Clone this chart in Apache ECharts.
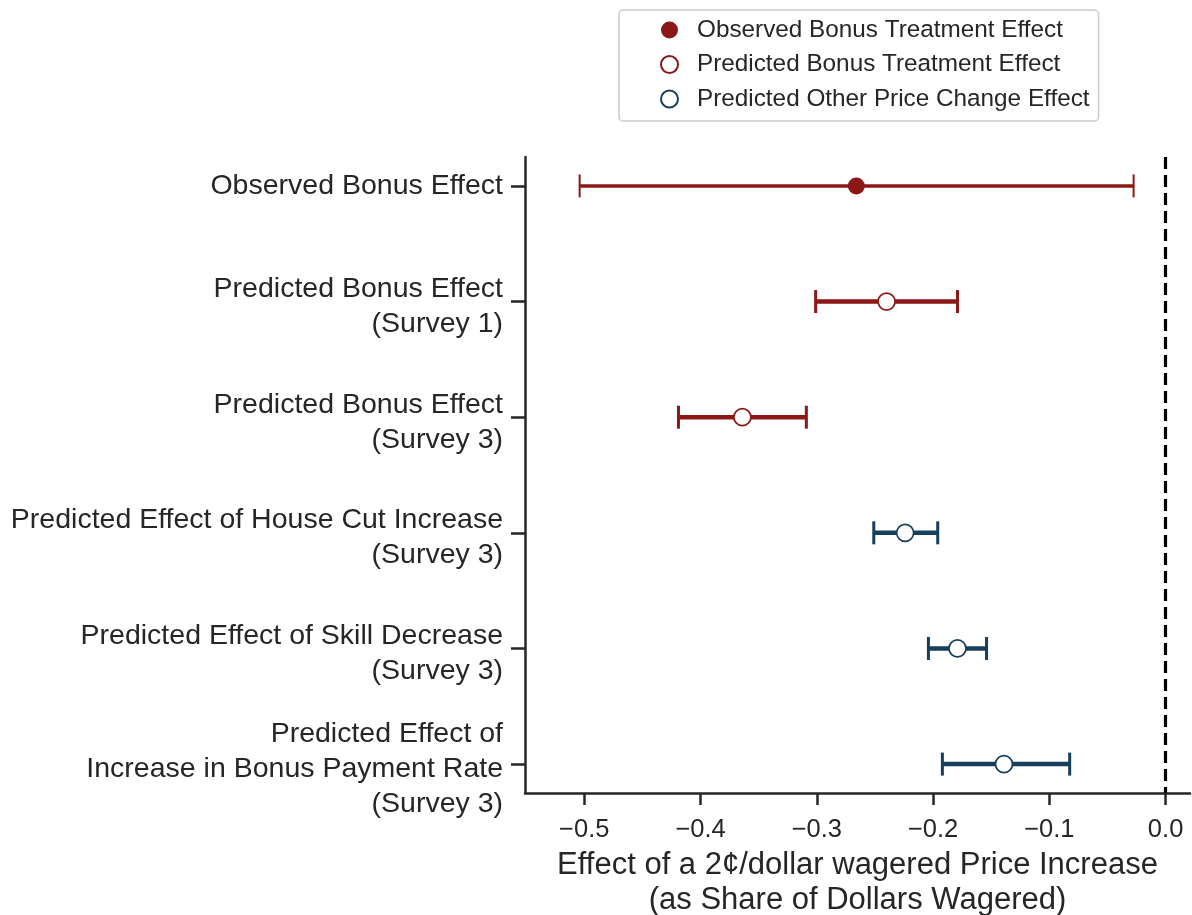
<!DOCTYPE html>
<html><head><meta charset="utf-8">
<script src="https://cdn.jsdelivr.net/npm/echarts@6/dist/echarts.min.js"></script>
<style>html,body{margin:0;padding:0;background:#fff}#c{width:1192px;height:915px}</style>
</head><body><div id="c"></div><script>
// ---- data ----
const categories = [
  'Observed Bonus Effect',
  'Predicted Bonus Effect\n(Survey 1)',
  'Predicted Bonus Effect\n(Survey 3)',
  'Predicted Effect of House Cut Increase\n(Survey 3)',
  'Predicted Effect of Skill Decrease\n(Survey 3)',
  'Predicted Effect of\nIncrease in Bonus Payment Rate\n(Survey 3)'
];
const pointEstimates = [-0.266, -0.240, -0.364, -0.224, -0.179, -0.139];
const ciLower        = [-0.504, -0.301, -0.419, -0.251, -0.204, -0.192];
const ciUpper        = [-0.0275, -0.179, -0.309, -0.196, -0.154, -0.0825];
const groupOfRow     = [0, 1, 1, 2, 2, 2];
const legendNames = [
  'Observed Bonus Treatment Effect',
  'Predicted Bonus Treatment Effect',
  'Predicted Other Price Change Effect'
];
const xTicks = [-0.5, -0.4, -0.3, -0.2, -0.1, 0.0];
const rowTicks = [0, 1, 2, 3, 4, 5];

// ---- styles ----
const RED = '#8c1717';
const BLUE = '#173f5c';
const groupColor = [RED, RED, BLUE];
const groupFilled = [true, false, false];
const groupLineW = [3.5, 4.5, 4.5];
const groupCapW = [2, 3, 3];
const TXT = '#262626';

const series = [];
legendNames.forEach((name, g) => {
  const rows = rowTicks.filter(i => groupOfRow[i] === g);
  series.push({
    type: 'custom',
    name: 'ci' + g,
    z: 2,
    silent: true,
    encode: { x: [0, 1], y: 2 },
    data: rows.map(i => [ciLower[i], ciUpper[i], i]),
    renderItem: (params, api) => {
      const lo = api.coord([api.value(0), api.value(2)]);
      const hi = api.coord([api.value(1), api.value(2)]);
      const h = 11.5;
      const c = groupColor[g];
      return { type: 'group', children: [
        { type: 'line', shape: { x1: lo[0], y1: lo[1], x2: hi[0], y2: hi[1] }, style: { stroke: c, lineWidth: groupLineW[g] } },
        { type: 'line', shape: { x1: lo[0], y1: lo[1] - h, x2: lo[0], y2: lo[1] + h }, style: { stroke: c, lineWidth: groupCapW[g] } },
        { type: 'line', shape: { x1: hi[0], y1: hi[1] - h, x2: hi[0], y2: hi[1] + h }, style: { stroke: c, lineWidth: groupCapW[g] } }
      ]};
    }
  });
  const sc = {
    type: 'scatter',
    name: name,
    z: 5,
    symbol: 'circle',
    symbolSize: 17,
    data: rows.map(i => [pointEstimates[i], i]),
    itemStyle: groupFilled[g]
      ? { color: groupColor[g], opacity: 1 }
      : { color: '#ffffff', borderColor: groupColor[g], borderWidth: 1.7, opacity: 1 }
  };
  if (g === 0) {
    sc.markLine = {
      silent: true, symbol: ['none', 'none'], animation: false,
      label: { show: false },
      lineStyle: { color: '#000', width: 3.2, type: [12, 6] },
      data: [{ xAxis: 0 }]
    };
  }
  series.push(sc);
});

const chart = echarts.init(document.getElementById('c'), null, { renderer: 'canvas' });
chart.setOption({
  animation: false,
  backgroundColor: '#fff',
  textStyle: { fontFamily: 'Liberation Sans, Arial, sans-serif' },
  grid: { left: 525, right: 2, top: 157, bottom: 122, containLabel: false, outerBoundsMode: 'none' },
  legend: {
    data: legendNames,
    orient: 'vertical',
    left: 619, top: 10,
    padding: [8, 9, 10, 41],
    itemGap: 10.5,
    itemWidth: 17, itemHeight: 17,
    icon: 'circle',
    borderColor: '#cccccc', borderWidth: 1.5, borderRadius: 4,
    textStyle: { fontSize: 24.3, color: TXT, lineHeight: 24, padding: [0, 0, 0, 14] }
  },
  xAxis: {
    type: 'value',
    min: -0.551, max: 0.021,
    splitLine: { show: false },
    axisLine: { show: true, onZero: false, lineStyle: { color: TXT, width: 2.5 } },
    axisTick: { show: true, length: 12, lineStyle: { color: TXT, width: 2.5 }, customValues: xTicks },
    axisLabel: {
      customValues: xTicks, fontSize: 25.5, color: TXT, margin: 24,
      formatter: v => (v < 0 ? '\u2212' : '') + Math.abs(v).toFixed(1)
    },
    name: 'Effect of a 2\u00a2/dollar wagered Price Increase\n(as Share of Dollars Wagered)',
    nameLocation: 'middle', nameGap: 53,
    nameTextStyle: { fontSize: 31, color: TXT, lineHeight: 35 }
  },
  yAxis: {
    type: 'value',
    inverse: true,
    min: -0.25, max: 5.25,
    splitLine: { show: false },
    axisLine: { show: true, onZero: false, lineStyle: { color: TXT, width: 2.5 } },
    axisTick: { show: true, length: 14, lineStyle: { color: TXT, width: 2.5 }, customValues: rowTicks },
    axisLabel: {
      customValues: rowTicks, color: TXT, margin: 22, align: 'right',
      rich: {
        s: { fontSize: 1, lineHeight: 10, align: 'right' },
        a: { fontSize: 28.5, lineHeight: 35, color: TXT, align: 'right' }
      },
      formatter: v => {
        const lines = categories[Math.round(v)].split('\n');
        const body = lines.map(l => '{a|' + l + '}').join('\n');
        return lines.length > 1 ? '{s| }\n' + body : body;
      }
    }
  },
  series: series
});
</script></body></html>
